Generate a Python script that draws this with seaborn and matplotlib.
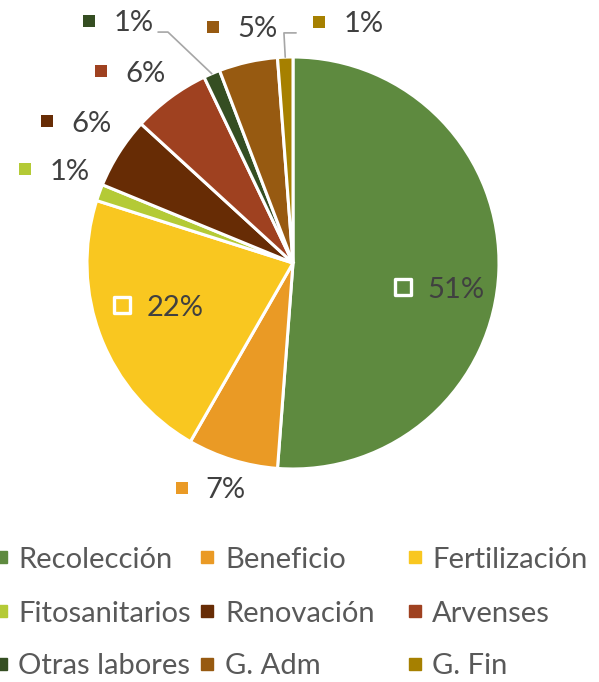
import matplotlib
matplotlib.use("Agg")
import matplotlib.pyplot as plt
import seaborn as sns
import numpy as np

# data
categories = ["Recolección", "Beneficio", "Fertilización", "Fitosanitarios",
              "Renovación", "Arvenses", "Otras labores", "G. Adm", "G. Fin"]
shares = [51.2, 7.1, 21.6, 1.3, 5.6, 6.1, 1.3, 4.6, 1.2]
colors = ["#5E8A3F", "#EA9A25", "#F9C720", "#B4CA36", "#672C05",
          "#9F4120", "#354E22", "#975A11", "#A68000"]

# label marker positions (pie radius units) and which ones sit inside
label_pos = [(0.534, -0.117), (-0.541, -1.092), (-0.830, -0.204), (-1.301, 0.456),
             (-1.194, 0.689), (-0.932, 0.932), (-0.990, 1.175), (-0.388, 1.146),
             (0.126, 1.170)]
inside = [True, False, True, False, False, False, False, False, False]
# elbow points of leader lines
leaders = {6: [(-0.655, 1.121), (-0.607, 1.121)],
           8: [(0.015, 1.117), (-0.044, 1.117)]}

sns.set_theme(style="white")
plt.rcParams["font.family"] = ["Lato", "DejaVu Sans"]

W, H = 599, 682
fig = plt.figure(figsize=(W / 100, H / 100), dpi=100)
cx, cy, r = 293, 263, 206
ax = fig.add_axes([(cx - r) / W, (H - cy - r) / H, 2 * r / W, 2 * r / H])

wedges, _ = ax.pie(shares, colors=colors, startangle=90, counterclock=False,
                   radius=1, wedgeprops=dict(edgecolor="white", linewidth=2.2))
ax.set_xlim(-1, 1)
ax.set_ylim(-1, 1)
ax.set_aspect("equal")
ax.axis("off")

fs = 21
half_cap = 10.5  # px, to sit caps centred on the marker
txt_color = "#404040"
for i, (w, v) in enumerate(zip(wedges, shares)):
    x, y = label_pos[i]
    if inside[i]:
        ax.scatter([x], [y], marker="s", s=120, color=colors[i],
                   edgecolor="white", linewidth=2.4, clip_on=False, zorder=5)
    else:
        ax.scatter([x], [y], marker="s", s=75, color=colors[i],
                   linewidth=0, clip_on=False, zorder=5)
    ax.text(x + 0.118, y - half_cap / r, f"{v:.0f}%", fontsize=fs, color=txt_color,
            ha="left", va="baseline", clip_on=False)
    if i in leaders:
        mid = np.deg2rad((w.theta1 + w.theta2) / 2)
        pts = leaders[i] + [(np.cos(mid), np.sin(mid))]
        xs, ys = zip(*pts)
        ax.plot(xs, ys, color="#A6A6A6", linewidth=1.2, clip_on=False, zorder=1)

# legend, three columns filled row by row
col_marker = [0.5, 207, 415]
col_text = [18, 225, 432]
row_y = [557, 611, 664]
for k, (name, c) in enumerate(zip(categories, colors)):
    row, col = divmod(k, 3)
    fy = 1 - row_y[row] / H
    fig.patches.append(plt.Rectangle(((col_marker[col] - 6) / W, fy - 6 / H), 12 / W, 12 / H,
                                     transform=fig.transFigure, color=c, figure=fig))
    fig.text(col_text[col] / W, fy - half_cap / H, name, fontsize=fs, color="#595959",
             ha="left", va="baseline")

fig.savefig("out.png", dpi=100)
